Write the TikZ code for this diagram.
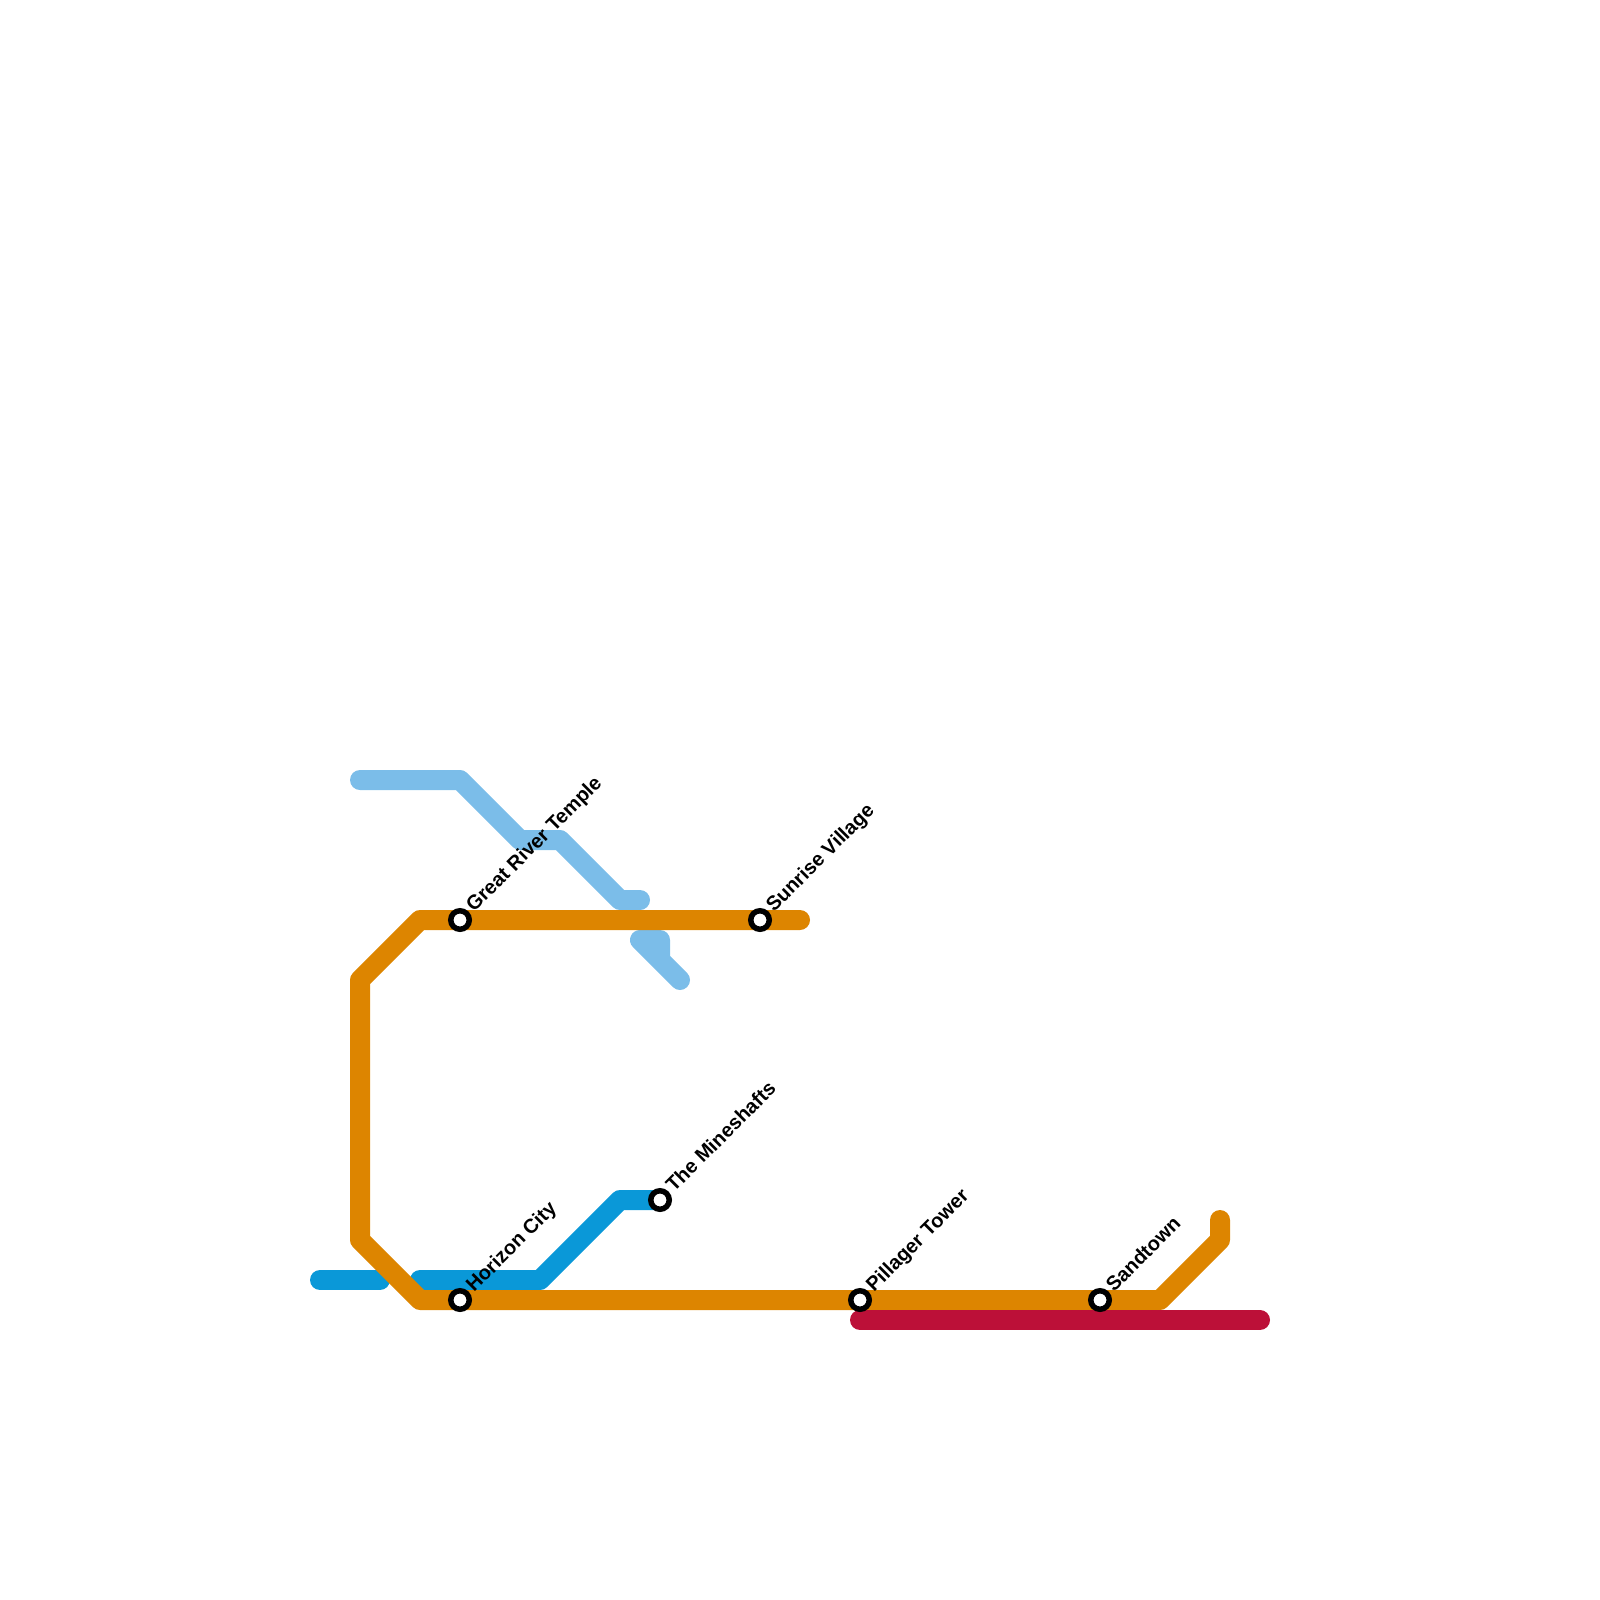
\documentclass[tikz,border=0pt]{standalone}
\usepackage{fontspec}
\setmainfont{Liberation Sans}
\definecolor{orangeline}{HTML}{DD8500}
\definecolor{skyline}{HTML}{7BBDE9}
\definecolor{blueline}{HTML}{0A98D8}
\definecolor{redline}{HTML}{BC1038}
\tikzset{
 metro/.style={line width=20pt,line cap=round,line join=round},
 stationdot/.style={circle,draw=black,fill=white,line width=5.5pt,minimum size=18.5pt,inner sep=0pt},
 stationlabel/.style={anchor=base west,rotate=45,font=\fontsize{20pt}{22pt}\selectfont\bfseries,text=black,inner sep=0pt}
}
\begin{document}
\begin{tikzpicture}[x=1pt,y=-1pt]
\useasboundingbox (0,0) rectangle (1600,1600);
% way points
\coordinate (s1) at (360,780); \coordinate (s2) at (460,780); \coordinate (s3) at (520,840);
\coordinate (s4) at (560,840); \coordinate (s5) at (620,900); \coordinate (s6) at (640,900);
\coordinate (t1) at (640,940); \coordinate (t2) at (660,940); \coordinate (t3) at (660,960); \coordinate (t4) at (680,980);
\coordinate (b1) at (320,1280); \coordinate (b2) at (380,1280);
\coordinate (b3) at (420,1280); \coordinate (b4) at (540,1280); \coordinate (b5) at (620,1200);
\coordinate (o1) at (800,920); \coordinate (o2) at (420,920); \coordinate (o3) at (360,980);
\coordinate (o4) at (360,1240); \coordinate (o5) at (420,1300); \coordinate (o6) at (1160,1300);
\coordinate (o7) at (1220,1240); \coordinate (o8) at (1220,1220);
\coordinate (r1) at (860,1320); \coordinate (r2) at (1260,1320);
\coordinate (grt) at (460,920); \coordinate (sun) at (760,920); \coordinate (hor) at (460,1300);
\coordinate (min) at (660,1200); \coordinate (pil) at (860,1300); \coordinate (san) at (1100,1300);
% lines
\draw[metro,skyline] (s1)--(s2)--(s3)--(s4)--(s5)--(s6);
\draw[metro,skyline] (t4)--(t1)--(t2)--(t3);
\draw[metro,blueline] (b1)--(b2);
\draw[metro,blueline] (b3)--(b4)--(b5)--(min);
\draw[metro,orangeline] (o1)--(o2)--(o3)--(o4)--(o5)--(o6)--(o7)--(o8);
\draw[metro,redline] (r1)--(r2);
% stations
\node[stationdot] (ngrt) at (grt) {};
\node[stationdot] (nsun) at (sun) {};
\node[stationdot] (nhor) at (hor) {};
\node[stationdot] (nmin) at (min) {};
\node[stationdot] (npil) at (pil) {};
\node[stationdot] (nsan) at (san) {};
% labels
\node[stationlabel] (lgrt) at ([shift={(14,-7)}]grt) {Great River Temple};
\node[stationlabel] (lsun) at ([shift={(14,-7)}]sun) {Sunrise Village};
\node[stationlabel] (lhor) at ([shift={(14,-7)}]hor) {Horizon City};
\node[stationlabel] (lmin) at ([shift={(14,-7)}]min) {The Mineshafts};
\node[stationlabel] (lpil) at ([shift={(14,-7)}]pil) {Pillager Tower};
\node[stationlabel] (lsan) at ([shift={(14,-7)}]san) {Sandtown};
\end{tikzpicture}
\end{document}
